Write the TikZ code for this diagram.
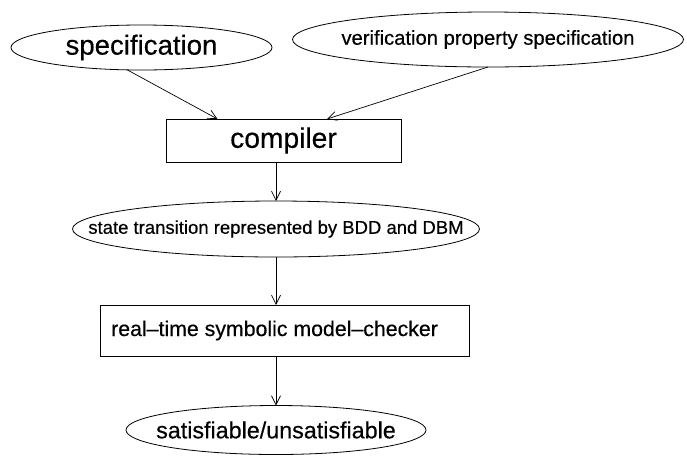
\documentclass[tikz,border=0pt]{standalone}
\usepackage{fontspec}
\setmainfont[FakeBold=0.4]{Liberation Sans}
\usetikzlibrary{shapes.geometric,arrows.meta}
\tikzset{
  ell/.style={draw, ellipse, inner sep=0pt, outer sep=0pt, line width=0.8pt},
  boxnode/.style={draw, rectangle, inner sep=0pt, outer sep=0pt, line width=0.8pt},
  lbl/.style={inner sep=0pt, anchor=center},
  arr/.style={line width=0.7pt, -{Straight Barb[length=9pt,width=9pt,line width=0.7pt]}}
}
\begin{document}
\begin{tikzpicture}[x=1pt,y=-1pt]
\useasboundingbox (0,0) rectangle (687,456);
\fill[white] (0,0) rectangle (687,456);
% nodes
\node[ell, minimum width=261pt, minimum height=45pt,
  label={[lbl]center:\fontsize{27.6}{30}\selectfont specification}] (spec) at (141.5,47.5) {};
\node[ell, minimum width=391pt, minimum height=55pt,
  label={[lbl]center:\fontsize{20.2}{24}\selectfont verification property specification}] (verif) at (488,39.5) {};
\node[boxnode, minimum width=235pt, minimum height=43pt] (comp) at (283.5,140.5)
  {\fontsize{28.2}{30}\selectfont compiler};
\node[ell, minimum width=407pt, minimum height=56pt,
  label={[lbl]center:\fontsize{18.5}{22}\selectfont state transition represented by BDD and DBM}] (state) at (276,229) {};
\node[boxnode, minimum width=369pt, minimum height=51pt] (chk) at (284.5,330.5) {};
\node[inner sep=0pt, anchor=west] (chktext) at ([xshift=11pt]chk.west)
  {\fontsize{21.3}{24}\selectfont real–time symbolic model–checker};
\node[ell, minimum width=300pt, minimum height=49pt,
  label={[lbl]center:\fontsize{23.3}{26}\selectfont satisfiable/unsatisfiable}] (sat) at (276,430) {};
% connectors
\draw[arr] ([xshift=-14pt]spec.south) -- ([xshift=-66pt]comp.north);
\draw[arr] (verif.south) -- ([xshift=43.5pt]comp.north);
\draw[arr] (comp.south -| state.north) -- (state.north);
\draw[arr] (state.south) -- (state.south |- chk.north);
\draw[arr] (chk.south -| sat.north) -- (sat.north);
\end{tikzpicture}
\end{document}
